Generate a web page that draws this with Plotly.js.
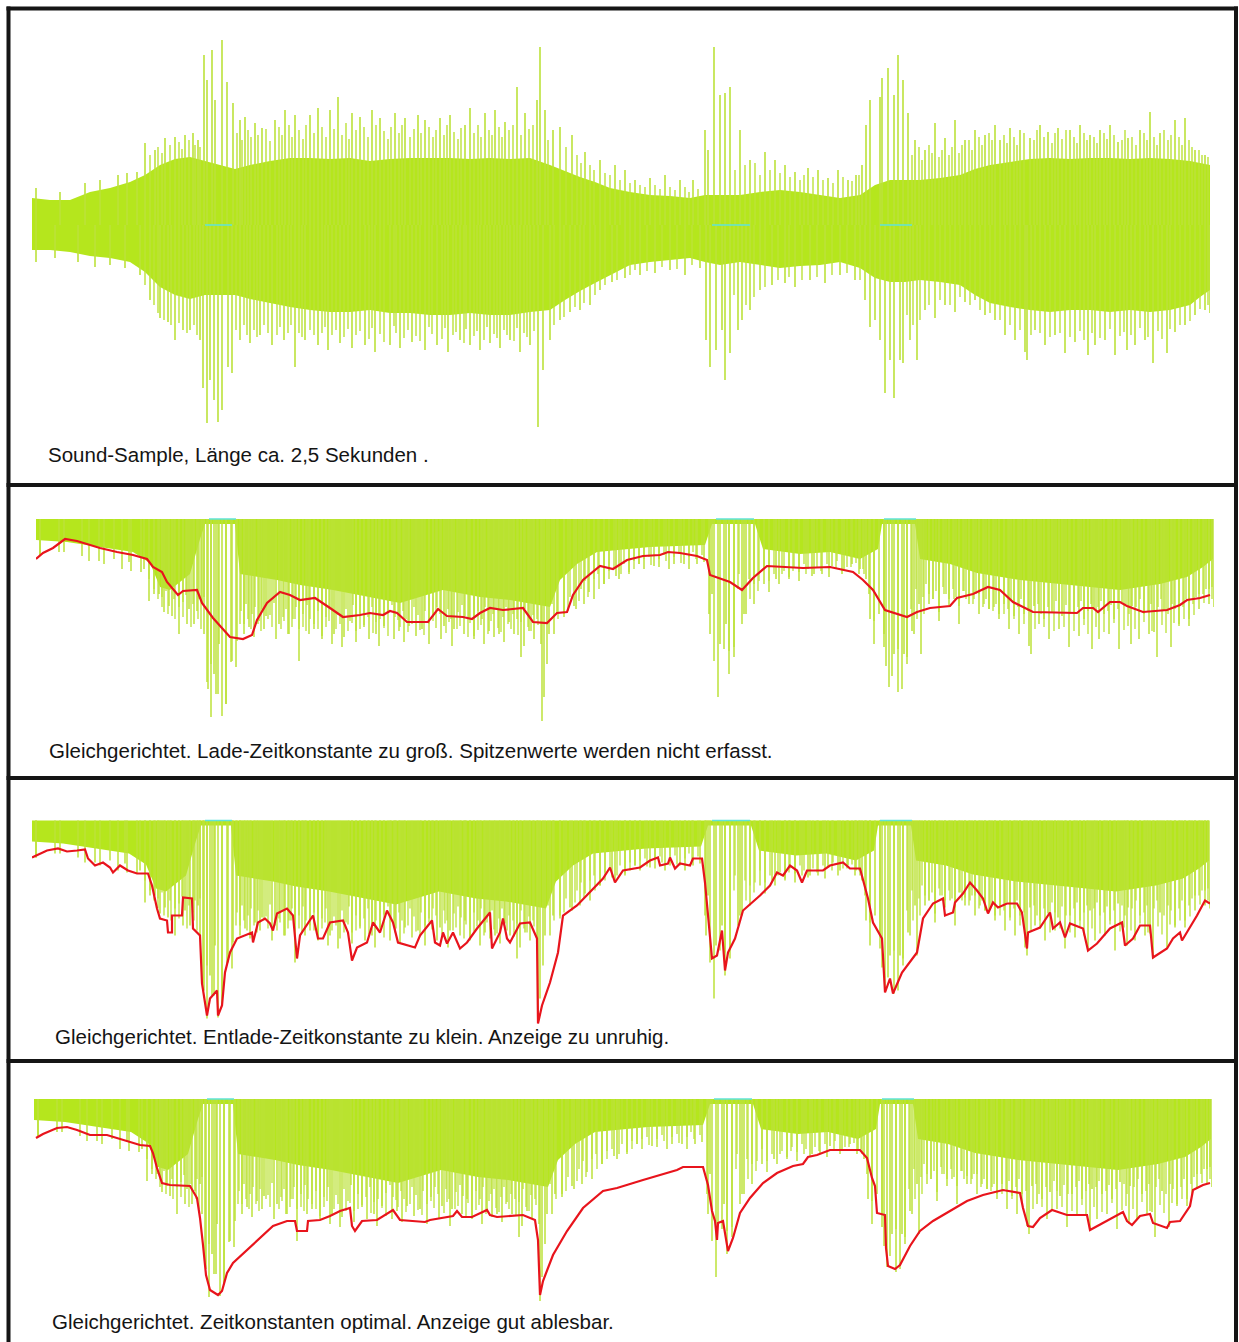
<!DOCTYPE html>
<html>
<head>
<meta charset="utf-8">
<script src="https://cdn.plot.ly/plotly-3.0.1.min.js"></script>
<style>html,body{margin:0;padding:0;background:#fff;}#chart{width:1239px;height:1342px;}</style>
</head>
<body>
<div id="chart"></div>
<script>
// ---- Data: x = frame index (1178 frames ≈ 2,5 s), amplitude in display units ----
// Panel 1: dense core of the raw waveform (upper / lower edge)
const coreX  = [0,18,38,58,78,98,113,128,143,158,173,188,203,218,238,258,278,298,318,338,358,378,398,418,438,458,478,498,518,533,548,563,578,598,618,638,658,673,688,708,728,748,768,788,808,828,843,858,873,888,908,928,943,958,978,998,1018,1038,1058,1078,1098,1118,1138,1158,1168,1178];
const coreUp = [27,25,25,33,37,43,50,60,66,68,64,60,56,60,64,67,67,66,67,64,66,67,67,67,66,67,66,67,60,54,48,43,37,33,30,29,27,30,30,30,33,35,33,30,27,30,40,45,45,45,47,50,56,60,63,66,67,66,67,67,66,67,66,64,62,60];
const coreLo = [-25,-25,-27,-31,-33,-37,-47,-62,-70,-74,-70,-70,-70,-74,-78,-82,-85,-87,-87,-85,-88,-88,-90,-90,-88,-90,-90,-87,-85,-75,-66,-58,-50,-40,-37,-35,-33,-37,-40,-37,-40,-43,-41,-40,-37,-43,-53,-57,-57,-55,-57,-60,-70,-78,-82,-85,-87,-85,-85,-87,-85,-87,-85,-80,-72,-65];

// Panel 1: prominent positive peaks
const peakUpX = [4,28,53,68,86,95,105,113,123,133,143,153,161,166,172,175,180,183,190,195,201,208,213,223,230,243,253,263,278,286,298,306,320,328,340,348,363,373,386,393,408,418,433,438,453,463,473,485,493,505,508,513,521,528,540,553,568,583,593,603,618,633,648,661,673,676,682,688,693,698,708,718,733,743,753,763,776,786,796,806,816,824,830,834,838,848,850,856,862,866,871,876,883,893,903,913,923,933,943,953,963,968,978,988,998,1008,1016,1026,1038,1048,1058,1068,1078,1086,1096,1108,1118,1128,1143,1153,1163,1173];
const peakUpA = [37,33,42,45,50,52,53,82,75,87,88,90,92,85,170,145,175,125,185,143,122,105,108,102,97,105,115,110,110,117,115,128,112,108,115,107,112,107,110,105,107,110,100,117,112,115,103,138,112,125,178,115,95,98,90,73,65,60,55,45,47,50,45,45,95,75,178,130,132,138,95,65,73,65,60,53,57,55,47,55,45,50,60,100,125,128,147,157,130,170,145,112,85,75,102,87,105,85,95,90,100,85,97,95,87,100,93,97,95,100,90,95,100,83,87,95,113,92,105,107,75,70];

// Panel 1: prominent negative peaks
const peakDnX = [4,23,46,63,78,93,108,118,128,136,143,151,158,168,171,175,178,182,186,190,196,200,208,218,228,240,252,263,273,286,296,308,320,333,343,358,368,380,393,405,416,428,438,448,458,468,478,488,498,506,511,518,528,538,548,558,568,580,593,608,623,638,653,668,674,678,684,690,693,698,706,710,718,728,740,753,763,778,793,808,823,833,838,843,848,853,858,862,868,871,878,885,893,903,913,923,933,943,953,963,973,983,993,995,1003,1013,1023,1033,1043,1056,1063,1073,1083,1095,1103,1113,1121,1135,1143,1153,1163,1173,1178];
const peakDnA = [-37,-33,-37,-42,-40,-43,-50,-75,-93,-97,-115,-105,-105,-115,-163,-198,-155,-175,-197,-185,-142,-148,-115,-118,-110,-120,-115,-142,-115,-120,-125,-118,-123,-120,-127,-120,-123,-117,-125,-120,-127,-115,-120,-125,-118,-123,-115,-127,-120,-202,-145,-115,-95,-87,-85,-80,-65,-57,-53,-50,-48,-45,-50,-43,-115,-142,-125,-105,-155,-128,-105,-95,-85,-65,-60,-58,-62,-55,-58,-50,-55,-75,-102,-95,-115,-168,-135,-173,-135,-138,-115,-135,-85,-93,-80,-87,-77,-75,-90,-95,-110,-115,-127,-135,-105,-120,-110,-128,-117,-130,-120,-115,-130,-125,-120,-115,-138,-128,-107,-100,-90,-85,-88];

// Panel 1: smaller positive peaks (ragged edge of the dense part)
const minorUpX = [118,126,130,138,147,150,157,163,168,205,210,216,219,226,234,238,247,250,257,260,267,271,274,282,290,294,302,310,314,317,324,332,336,344,352,356,359,367,370,378,382,389,397,401,404,412,415,422,426,429,442,446,449,457,460,467,470,477,481,489,497,501,516,534,545,549,558,562,573,578,588,598,608,613,623,628,638,643,653,657,666,703,713,723,728,738,748,758,768,772,781,791,801,811,820,827,880,887,890,897,900,907,910,917,920,927,930,937,940,947,950,957,960,972,975,982,985,992,1002,1005,1012,1020,1023,1030,1034,1042,1045,1052,1055,1062,1065,1072,1075,1082,1090,1093,1100,1104,1112,1115,1122,1125,1132,1136,1139,1147,1150,1157,1160,1167,1170,1176];
const minorUpA = [70,78,72,80,83,76,85,80,78,92,85,95,88,90,96,84,98,90,100,88,95,86,100,92,98,88,96,90,102,86,95,98,88,100,94,86,98,92,100,88,96,92,98,88,95,90,100,93,86,97,92,100,88,95,90,98,88,95,100,90,96,100,85,78,70,62,60,55,52,50,45,42,40,38,40,36,38,35,38,33,36,55,60,62,50,55,52,48,45,50,48,45,42,48,44,50,70,78,65,80,72,68,75,70,78,72,80,85,75,88,80,92,85,90,82,88,80,92,85,95,88,82,92,86,95,88,82,92,85,88,82,92,86,90,85,95,88,80,92,85,88,80,95,85,90,88,80,85,78,75,70,68];

// Panel 1: smaller negative peaks
const minorDnX = [113,122,126,132,139,147,155,162,165,204,212,215,222,225,232,236,245,248,256,259,267,270,278,282,290,293,300,304,312,316,324,328,337,340,348,352,362,364,372,376,384,388,397,400,410,413,421,424,432,434,442,445,452,455,462,465,472,475,482,485,492,495,502,522,532,543,552,563,573,585,598,603,615,630,645,660,702,714,722,733,746,757,770,785,800,815,828,875,881,888,897,908,918,928,938,948,958,968,978,988,999,1008,1018,1028,1038,1048,1052,1060,1068,1078,1088,1092,1099,1108,1116,1126,1130,1138,1148,1158,1168,1176];
const minorDnA = [-60,-80,-88,-95,-100,-98,-108,-100,-110,-105,-100,-110,-105,-112,-100,-108,-110,-102,-108,-100,-108,-112,-105,-110,-108,-102,-110,-105,-112,-104,-110,-106,-114,-103,-109,-117,-101,-108,-113,-105,-111,-116,-102,-109,-114,-103,-110,-107,-118,-104,-111,-106,-115,-102,-109,-113,-105,-110,-116,-103,-108,-112,-106,-100,-92,-82,-78,-70,-60,-55,-50,-45,-46,-42,-44,-40,-70,-80,-72,-62,-55,-52,-55,-52,-50,-48,-55,-90,-100,-95,-80,-75,-80,-72,-80,-85,-88,-95,-100,-105,-110,-108,-112,-108,-112,-106,-115,-108,-113,-104,-111,-107,-110,-103,-112,-106,-114,-104,-100,-96,-84,-80];

// Rectified signal: dense core depth
const rectX = [0,31,64,97,114,124,134,154,164,169,199,204,241,264,297,334,364,407,444,474,499,514,524,541,561,614,669,676,719,727,764,794,824,842,846,879,884,914,941,984,1034,1084,1124,1151,1167,1177];
const rectD = [21,23,28,33,44,68,71,55,20,5,5,55,61,66,71,78,84,71,78,81,85,88,61,45,33,28,26,5,5,30,35,33,40,30,5,5,40,45,54,61,66,71,65,58,48,40];

// Short zero-level marks (cyan) at the three bursts
const markStart = [173,680,848];
const markEnd   = [200,718,880];

// Envelope: charging time constant too large
const env2X = [0,7,17,29,41,54,64,81,97,111,117,126,131,142,147,161,166,177,186,194,207,216,221,231,244,254,264,279,294,307,324,334,347,354,361,371,392,402,411,427,436,444,454,467,487,497,511,521,531,537,547,564,577,591,607,624,632,644,661,671,674,694,706,717,731,767,794,817,827,837,849,861,871,881,894,914,921,937,952,964,977,997,1041,1047,1057,1062,1074,1084,1091,1107,1131,1144,1151,1164,1174];
const env2D = [40,34,29,20,22,26,29,33,36,40,48,53,63,76,72,71,84,99,109,118,120,116,101,84,73,76,81,79,89,98,96,94,96,92,94,103,103,90,97,98,100,94,89,91,89,103,104,94,93,76,61,47,50,41,37,36,33,34,37,41,56,63,71,59,47,49,48,53,61,71,91,95,98,93,89,87,79,75,68,71,83,93,94,89,89,93,83,83,87,93,91,86,81,79,76];

// Envelope: discharging time constant too small
const env3X = [0,15,26,35,45,53,56,63,71,78,81,88,96,105,116,120,125,128,135,136,140,140,150,151,160,161,168,170,175,178,185,186,190,193,198,205,220,221,226,233,238,241,245,255,261,265,268,281,286,291,298,311,316,320,325,335,341,348,355,361,366,375,383,388,400,403,408,411,415,421,428,435,445,458,460,468,471,475,478,488,498,505,506,510,518,526,531,545,558,571,578,583,591,608,618,626,628,636,638,643,648,658,661,670,673,676,680,685,690,693,696,703,711,728,738,745,751,758,765,770,775,791,798,811,818,828,836,841,850,853,858,861,870,885,891,901,911,913,921,923,931,938,945,951,956,961,966,975,985,990,995,996,1008,1018,1021,1028,1033,1038,1051,1056,1065,1078,1090,1093,1101,1108,1118,1121,1135,1141,1148,1150,1158,1165,1173,1178];
const env3D = [37,30,28,31,30,29,38,45,42,47,52,45,50,53,53,65,88,98,100,112,112,95,95,77,78,108,115,163,195,178,170,195,185,152,132,118,112,122,102,98,103,110,93,88,95,138,115,95,118,118,102,100,112,140,127,122,102,112,90,102,122,125,127,115,100,122,125,112,123,112,128,122,108,92,128,112,98,118,122,103,102,118,203,185,162,132,95,85,72,58,47,62,50,47,40,37,45,43,37,48,43,45,38,38,62,92,138,135,110,150,132,118,90,75,65,52,55,45,50,62,50,50,45,42,48,48,78,102,118,172,158,173,152,132,98,83,78,95,92,82,73,62,70,78,93,82,87,83,83,92,128,112,107,92,108,102,117,103,108,130,123,108,102,125,118,105,105,137,128,118,112,120,107,95,80,83];

// Envelope: optimal time constants
const env4X = [2,9,23,33,43,56,73,83,93,106,116,119,123,128,136,156,163,166,169,172,176,184,188,193,199,213,226,239,253,261,263,273,274,286,296,306,316,318,321,328,343,359,366,391,396,409,419,423,428,438,453,456,463,489,501,504,506,509,519,533,549,569,583,609,626,643,649,669,674,678,681,683,684,689,694,699,706,716,729,743,759,769,774,783,796,826,833,838,841,843,851,852,854,861,866,876,886,899,916,933,949,969,986,989,994,999,1006,1018,1033,1053,1056,1063,1073,1083,1089,1093,1098,1106,1116,1119,1133,1136,1146,1156,1159,1169,1176];
const env4D = [39,35,29,28,31,36,36,39,42,46,47,54,69,84,86,87,99,119,146,176,191,196,192,174,164,151,139,127,122,122,132,132,122,121,117,112,109,127,132,122,121,111,121,123,121,119,117,112,118,118,111,116,118,116,121,141,196,182,156,132,109,92,89,81,76,71,68,68,86,112,122,141,124,122,152,139,114,99,84,74,67,65,58,56,51,51,59,79,87,114,116,149,167,170,166,147,132,122,112,102,96,91,94,109,127,128,119,111,116,116,131,127,122,116,113,122,126,117,115,124,129,123,122,107,91,86,84];

const captions = [
  "Sound-Sample, Länge ca. 2,5 Sekunden .",
  "Gleichgerichtet. Lade-Zeitkonstante zu groß. Spitzenwerte werden nicht erfasst.",
  "Gleichgerichtet. Entlade-Zeitkonstante zu klein. Anzeige zu unruhig.",
  "Gleichgerichtet. Zeitkonstanten optimal. Anzeige gut ablesbar."
];

// ---- Styling / layout ----
const W = 1239, H = 1342;
const GREEN = '#b5e61d', SPIKE = '#bce23a', RED = '#e8141c', CYAN = '#5fe3d8';
const px = v => v / W;
const py = v => 1 - v / H;

function spikeTrace(xs, ys, absval, xa, ya, w) {
  const X = [], Y = [];
  for (let i = 0; i < xs.length; i++) {
    X.push(xs[i], xs[i], null);
    Y.push(0, absval ? Math.abs(ys[i]) : ys[i], null);
  }
  return {x: X, y: Y, mode: 'lines', line: {color: SPIKE, width: w},
          xaxis: xa, yaxis: ya, hoverinfo: 'skip', showlegend: false};
}
function markTrace(xa, ya) {
  const X = [], Y = [];
  for (let i = 0; i < markStart.length; i++) { X.push(markStart[i], markEnd[i], null); Y.push(0, 0, null); }
  return {x: X, y: Y, mode: 'lines', line: {color: CYAN, width: 1.5}, xaxis: xa, yaxis: ya,
          hoverinfo: 'skip', showlegend: false};
}

const traces = [];
// Panel 1: raw waveform
traces.push({
  x: coreX.concat(coreX.slice().reverse()),
  y: coreUp.concat(coreLo.slice().reverse()),
  fill: 'toself', fillcolor: GREEN, mode: 'lines', line: {width: 0, color: GREEN},
  xaxis: 'x', yaxis: 'y', hoverinfo: 'skip', showlegend: false
});
traces.push(spikeTrace(minorUpX, minorUpA, false, 'x', 'y', 1.4));
traces.push(spikeTrace(minorDnX, minorDnA, false, 'x', 'y', 1.4));
traces.push(spikeTrace(peakUpX, peakUpA, false, 'x', 'y', 1.6));
traces.push(spikeTrace(peakDnX, peakDnA, false, 'x', 'y', 1.6));
traces.push(markTrace('x', 'y'));

// Panels 2-4: rectified signal + envelope
const envs = [[env2X, env2D], [env3X, env3D], [env4X, env4D]];
for (let k = 0; k < 3; k++) {
  const xa = 'x' + (k + 2), ya = 'y' + (k + 2);
  traces.push({x: rectX, y: rectD, fill: 'tozeroy', fillcolor: GREEN, mode: 'lines',
    line: {width: 0, color: GREEN}, xaxis: xa, yaxis: ya, hoverinfo: 'skip', showlegend: false});
  traces.push(spikeTrace(minorUpX, minorUpA, true, xa, ya, 1.3));
  traces.push(spikeTrace(minorDnX, minorDnA, true, xa, ya, 1.3));
  traces.push(spikeTrace(peakUpX, peakUpA, true, xa, ya, 1.5));
  traces.push(spikeTrace(peakDnX, peakDnA, true, xa, ya, 1.5));
  traces.push(markTrace(xa, ya));
  traces.push({x: envs[k][0], y: envs[k][1], mode: 'lines', line: {color: RED, width: 2.2},
    xaxis: xa, yaxis: ya, hoverinfo: 'skip', showlegend: false});
}

function xax(l, r, anchor) {
  return {domain: [px(l), px(r)], range: [0, 1178], visible: false, fixedrange: true, anchor: anchor};
}
function yax(top, bot, range, anchor) {
  return {domain: [py(bot), py(top)], range: range, visible: false, fixedrange: true, anchor: anchor};
}

const lineStyle = {color: '#151515', width: 4};
const shapes = [
  {type: 'line', xref: 'paper', yref: 'paper', x0: px(6.5), x1: px(1238), y0: py(8.5), y1: py(8.5), line: lineStyle},
  {type: 'line', xref: 'paper', yref: 'paper', x0: px(8.5), x1: px(8.5), y0: py(6.5), y1: py(1342), line: lineStyle},
  {type: 'line', xref: 'paper', yref: 'paper', x0: px(1236), x1: px(1236), y0: py(6.5), y1: py(1342), line: lineStyle},
  {type: 'line', xref: 'paper', yref: 'paper', x0: px(6.5), x1: px(1238), y0: py(485), y1: py(485), line: lineStyle},
  {type: 'line', xref: 'paper', yref: 'paper', x0: px(6.5), x1: px(1238), y0: py(778), y1: py(778), line: lineStyle},
  {type: 'line', xref: 'paper', yref: 'paper', x0: px(6.5), x1: px(1238), y0: py(1061), y1: py(1061), line: lineStyle}
];

const capPos = [[46, 454], [47, 750], [53, 1036], [50, 1321]];
const annotations = captions.map((t, i) => ({
  text: t, xref: 'paper', yref: 'paper', x: px(capPos[i][0]), y: py(capPos[i][1]),
  xanchor: 'left', yanchor: 'middle', showarrow: false,
  font: {family: 'Liberation Sans, Arial, sans-serif', size: 20.5, color: '#141414'}
}));

const layout = {
  width: W, height: H, margin: {l: 0, r: 0, t: 0, b: 0, pad: 0},
  paper_bgcolor: '#ffffff', plot_bgcolor: 'rgba(0,0,0,0)', showlegend: false,
  xaxis: xax(32, 1210, 'y'),
  yaxis: yax(12, 440, [-215, 213], 'x'),
  xaxis2: xax(36, 1214, 'y2'),
  yaxis2: yax(500, 770, [251, -19], 'x2'),
  xaxis3: xax(32, 1210, 'y3'),
  yaxis3: yax(795, 1055, [234.5, -25.5], 'x3'),
  xaxis4: xax(34, 1212, 'y4'),
  yaxis4: yax(1075, 1338, [239, -24], 'x4'),
  shapes: shapes, annotations: annotations
};

Plotly.newPlot('chart', traces, layout, {staticPlot: true, displayModeBar: false});
</script>
</body>
</html>
